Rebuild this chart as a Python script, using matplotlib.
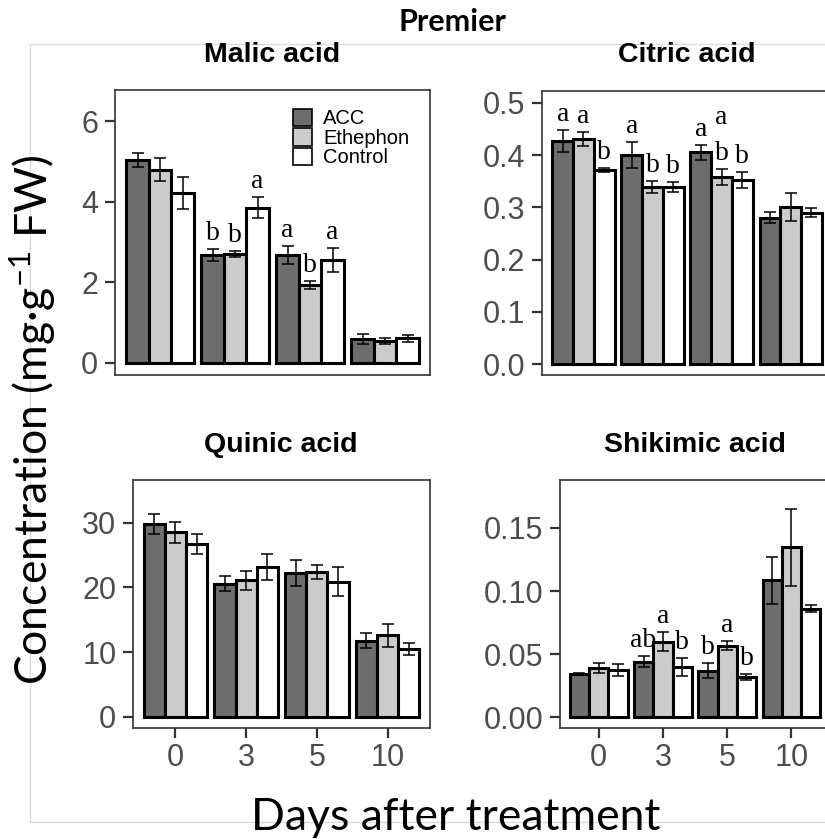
import matplotlib
matplotlib.use("Agg")
import matplotlib.pyplot as plt
from matplotlib.patches import Patch, Rectangle
import numpy as np

plt.rcParams['mathtext.fontset'] = 'custom'
plt.rcParams['mathtext.rm'] = 'Lato'
plt.rcParams['mathtext.it'] = 'Lato:italic'
plt.rcParams['mathtext.bf'] = 'Lato:bold'
plt.rcParams['mathtext.default'] = 'regular'

# ---------------- data ----------------
days = ['0', '3', '5', '10']
treatments = ['ACC', 'Ethephon', 'Control']

malic_acc = [5.04, 2.68, 2.68, 0.59]
malic_eth = [4.80, 2.71, 1.94, 0.55]
malic_ctl = [4.22, 3.86, 2.56, 0.61]
malic_acc_se = [0.17, 0.14, 0.22, 0.12]
malic_eth_se = [0.29, 0.07, 0.10, 0.07]
malic_ctl_se = [0.39, 0.25, 0.29, 0.09]
malic_letters = [['', '', ''], ['b', 'b', 'a'], ['a', 'b', 'a'], ['', '', '']]

citric_acc = [0.427, 0.400, 0.405, 0.280]
citric_eth = [0.431, 0.339, 0.358, 0.300]
citric_ctl = [0.372, 0.339, 0.352, 0.290]
citric_acc_se = [0.021, 0.025, 0.014, 0.011]
citric_eth_se = [0.013, 0.011, 0.015, 0.027]
citric_ctl_se = [0.004, 0.010, 0.015, 0.008]
citric_letters = [['a', 'a', 'b'], ['a', 'b', 'b'], ['a', 'a\nb', 'b'], ['', '', '']]

quinic_acc = [29.8, 20.6, 22.2, 11.8]
quinic_eth = [28.5, 21.1, 22.4, 12.6]
quinic_ctl = [26.7, 23.1, 20.9, 10.5]
quinic_acc_se = [1.55, 1.2, 2.0, 1.1]
quinic_eth_se = [1.6, 1.5, 1.05, 1.8]
quinic_ctl_se = [1.55, 2.0, 2.2, 0.85]
quinic_letters = [['', '', ''], ['', '', ''], ['', '', ''], ['', '', '']]

shik_acc = [0.0344, 0.0441, 0.0370, 0.1084]
shik_eth = [0.0389, 0.0600, 0.0568, 0.1346]
shik_ctl = [0.0375, 0.0397, 0.0317, 0.0860]
shik_acc_se = [0.0010, 0.0042, 0.0060, 0.0185]
shik_eth_se = [0.0042, 0.0073, 0.0033, 0.0304]
shik_ctl_se = [0.0050, 0.0073, 0.0025, 0.0026]
shik_letters = [['', '', ''], ['ab', 'a', 'b'], ['b', 'a', 'b'], ['', '', '']]

colors = ['#6d6d6d', '#cbcbcb', '#ffffff']

# ---------------- figure ----------------
W, H = 825, 839
fig = plt.figure(figsize=(W / 100, H / 100), dpi=100)
fig.patch.set_facecolor('white')


def rect(l, r, t, b):
    return [l / W, 1 - b / H, (r - l) / W, (b - t) / H]


# faint frame of the embedded image
fig.patches.append(Rectangle((29.5 / W, 1 - 821.5 / H), (840 - 29.5) / W, (821.5 - 44) / H,
                             transform=fig.transFigure, fill=False, ec='#dcdcdc', lw=1.0))

SANS = 'Liberation Sans'
SERIF = 'Liberation Serif'
OUTER = 'Lato'


def panel(pos, title, title_xy, means, ses, letters, ylim, yticks, yfmt, bottom_ticks):
    ax = fig.add_axes(rect(*pos))
    x = np.arange(1, len(days) + 1)
    w = 0.3
    for j in range(3):
        xs = x + (j - 1) * w
        ax.bar(xs, means[j], width=w, color=colors[j], edgecolor='black', linewidth=2.2, zorder=2)
        ax.errorbar(xs, means[j], yerr=ses[j], fmt='none', ecolor='black', elinewidth=1.1,
                    capsize=4.5, capthick=1.1, zorder=3)
        for i in range(len(days)):
            lab = letters[i][j]
            if not lab:
                continue
            top = means[j][i] + ses[j][i]
            lines = lab.split('\n')[::-1]
            for k, ln in enumerate(lines):
                ax.annotate(ln, (xs[i], top), xytext=(0, 6.5 + 26 * k), textcoords='offset points',
                            ha='center', va='baseline', fontsize=20, family=SERIF, color='black',
                            zorder=4)
    ax.set_xlim(0.4, 4.6)
    ax.set_ylim(*ylim)
    ax.set_yticks(yticks)
    ax.set_yticklabels([yfmt.format(v) for v in yticks])
    ax.tick_params(axis='y', length=7, width=1.6, color='#333333', labelsize=22,
                   labelcolor='#4d4d4d', pad=5)
    for lab in ax.get_yticklabels():
        lab.set_family(SANS)
    if bottom_ticks:
        ax.set_xticks(x)
        ax.set_xticklabels(days)
        ax.tick_params(axis='x', length=7, width=1.6, color='#333333', labelsize=22,
                       labelcolor='#4d4d4d', pad=4)
        for lab in ax.get_xticklabels():
            lab.set_family(SANS)
    else:
        ax.set_xticks([])
    for s in ax.spines.values():
        s.set_color('#333333')
        s.set_linewidth(1.2)
    fig.text(title_xy[0] / W, 1 - title_xy[1] / H, title, ha='center', va='center',
             fontsize=20.5, fontweight='bold', family=SANS)
    return ax


ax1 = panel((115, 430, 90, 375), 'Malic acid', (272, 55),
            [malic_acc, malic_eth, malic_ctl], [malic_acc_se, malic_eth_se, malic_ctl_se],
            malic_letters, (-0.30, 6.78), [0, 2, 4, 6], '{:g}', False)
ax2 = panel((542, 832, 91, 375), 'Citric acid', (687, 55),
            [citric_acc, citric_eth, citric_ctl], [citric_acc_se, citric_eth_se, citric_ctl_se],
            citric_letters, (-0.021, 0.5226), [0.0, 0.1, 0.2, 0.3, 0.4, 0.5], '{:.1f}', False)
ax3 = panel((133, 430, 480, 728), 'Quinic acid', (281, 445),
            [quinic_acc, quinic_eth, quinic_ctl], [quinic_acc_se, quinic_eth_se, quinic_ctl_se],
            quinic_letters, (-1.7, 36.6), [0, 10, 20, 30], '{:g}', True)
ax4 = panel((560, 830, 480, 728), 'Shikimic acid', (695, 445),
            [shik_acc, shik_eth, shik_ctl], [shik_acc_se, shik_eth_se, shik_ctl_se],
            shik_letters, (-0.0085, 0.188), [0.0, 0.05, 0.10, 0.15], '{:.2f}', True)

# legend
handles = [Patch(facecolor=c, edgecolor='black', linewidth=1.2, label=t)
           for c, t in zip(colors, treatments)]
leg = ax1.legend(handles=handles, loc='upper left', bbox_to_anchor=(0.565, 0.935),
                 frameon=False, handlelength=0.95, handleheight=0.95,
                 labelspacing=0.0, handletextpad=0.55, borderpad=0, borderaxespad=0,
                 prop={'family': SANS, 'size': 14.5})

# outer labels
fig.text(452 / W, 1 - 22 / H, 'Premier', ha='center', va='center', fontsize=22,
         fontweight='bold', family=OUTER)
fig.text(33 / W, 1 - 420 / H, 'Concentration (mg\u00b7g$^{-1}$ FW)', ha='center', va='center',
         rotation=90, fontsize=32, family=OUTER)
fig.text(456 / W, 1 - 818 / H, 'Days after treatment', ha='center', va='center', fontsize=32,
         family=OUTER)

fig.savefig('out.png', dpi=100)
